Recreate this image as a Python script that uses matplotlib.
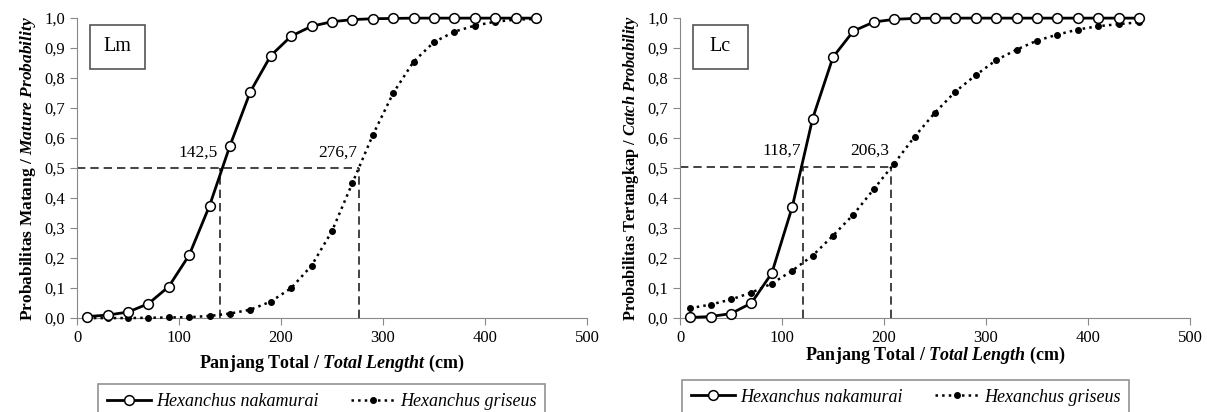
import matplotlib
matplotlib.use('Agg')
import matplotlib.pyplot as plt
from matplotlib.patches import Rectangle

plt.rcParams['font.family'] = ['Liberation Serif', 'DejaVu Serif']
plt.rcParams['mathtext.fontset'] = 'custom'
plt.rcParams['mathtext.rm'] = 'Liberation Serif'
plt.rcParams['mathtext.it'] = 'Liberation Serif:italic'
plt.rcParams['mathtext.bf'] = 'Liberation Serif:bold'
plt.rcParams['mathtext.bfit'] = 'Liberation Serif:italic:bold'

length = [10, 30, 50, 70, 90, 110, 130, 150, 170, 190, 210, 230,
          250, 270, 290, 310, 330, 350, 370, 390, 410, 430, 450]

# Lm panel
lm_nakamurai = [0.005, 0.010, 0.020, 0.048, 0.105, 0.210, 0.375, 0.575, 0.755, 0.875, 0.940, 0.973,
                0.988, 0.995, 0.998, 0.999, 1.0, 1.0, 1.0, 1.0, 1.0, 1.0, 1.0]
lm_griseus = [0.000, 0.000, 0.000, 0.001, 0.002, 0.003, 0.007, 0.015, 0.028, 0.055, 0.100, 0.175,
              0.290, 0.450, 0.610, 0.750, 0.855, 0.920, 0.955, 0.975, 0.988, 0.995, 0.997]
lm_values = [140.0, 276.7]
lm_labels = ['142,5', '276,7']

# Lc panel
lc_nakamurai = [0.002, 0.005, 0.015, 0.050, 0.150, 0.370, 0.665, 0.870, 0.957, 0.987, 0.996, 0.999,
                1.0, 1.0, 1.0, 1.0, 1.0, 1.0, 1.0, 1.0, 1.0, 1.0, 1.0]
lc_griseus = [0.033, 0.045, 0.062, 0.085, 0.115, 0.158, 0.208, 0.275, 0.345, 0.430, 0.515, 0.605,
              0.685, 0.755, 0.810, 0.860, 0.895, 0.925, 0.945, 0.962, 0.973, 0.980, 0.986]
lc_values = [120.5, 207.0]
lc_labels = ['118,7', '206,3']

xticks = [0, 100, 200, 300, 400, 500]
yticks = [0.0, 0.1, 0.2, 0.3, 0.4, 0.5, 0.6, 0.7, 0.8, 0.9, 1.0]


def panel(ax, nak, gri, marks, marklabels, level, tag, ylabel, ylabel_size, xlabel, xlabel_y, legend_x, legend_y):
    ax.plot(length, nak, '-', color='black', lw=2, marker='o', ms=7,
            mfc='white', mec='black', mew=1.1, zorder=5, clip_on=False, label='Hexanchus nakamurai')
    ax.plot(length, gri, ':', color='black', lw=1.8, marker='o', ms=4,
            mfc='black', mec='black', zorder=4, clip_on=False, label='Hexanchus griseus')
    ax.plot([0, marks[1]], [level, level], '--', color='#222222', lw=1.2, dashes=(5, 3))
    for m in marks:
        ax.plot([m, m], [0, level], '--', color='#222222', lw=1.2, dashes=(5, 3))
    for m, lab in zip(marks, marklabels):
        ax.text(m - 2, level + 0.025, lab, ha='right', va='bottom', fontsize=12.5)
    ax.set_xlim(0, 500)
    ax.set_ylim(0, 1.0)
    ax.set_xticks(xticks)
    ax.set_yticks(yticks)
    ax.set_yticklabels([('%.1f' % v).replace('.', ',') for v in yticks])
    ax.tick_params(labelsize=12, direction='out', length=5, color='#888888')
    for s in ['top', 'right']:
        ax.spines[s].set_visible(False)
    for s in ['left', 'bottom']:
        ax.spines[s].set_color('#888888')
    ax.set_ylabel(ylabel, fontsize=ylabel_size, fontweight='bold', labelpad=5)
    ax.text(0.5, xlabel_y, xlabel, transform=ax.transAxes, ha='center', va='center',
            fontsize=13, fontweight='bold')
    ax.add_patch(Rectangle((0.025, 0.83), 0.108, 0.148, transform=ax.transAxes,
                           fill=False, ec='#555555', lw=1.2, clip_on=False))
    ax.text(0.079, 0.905, tag, transform=ax.transAxes, ha='center', va='center', fontsize=14.5)
    leg = ax.legend(loc='upper center', bbox_to_anchor=(legend_x, legend_y), ncol=2,
                    frameon=True, fancybox=False,
                    prop={'family': 'Liberation Serif', 'style': 'italic', 'size': 13},
                    handlelength=2.4, handletextpad=0.3, columnspacing=1.8, borderpad=0.5)
    leg.get_frame().set_edgecolor('#777777')
    leg.get_frame().set_linewidth(1.2)


fig = plt.figure(figsize=(12.07, 4.12), dpi=100)
ax1 = fig.add_axes([0.0638, 0.228, 0.4225, 0.728])
ax2 = fig.add_axes([0.5634, 0.228, 0.4225, 0.728])

panel(ax1, lm_nakamurai, lm_griseus, lm_values, lm_labels, 0.5, 'Lm',
      r'Probabilitas Matang / $\mathbfit{Mature\ Probability}$', 12.5,
      r'Panjang Total / $\mathbfit{Total\ Lengtht}$ (cm)', -0.15, 0.48, -0.19)
panel(ax2, lc_nakamurai, lc_griseus, lc_values, lc_labels, 0.505, 'Lc',
      r'Probabilitas Tertangkap / $\mathbfit{Catch\ Probability}$', 11.8,
      r'Panjang Total / $\mathbfit{Total\ Length}$ (cm)', -0.125, 0.443, -0.175)

fig.savefig('out.png', dpi=100)
